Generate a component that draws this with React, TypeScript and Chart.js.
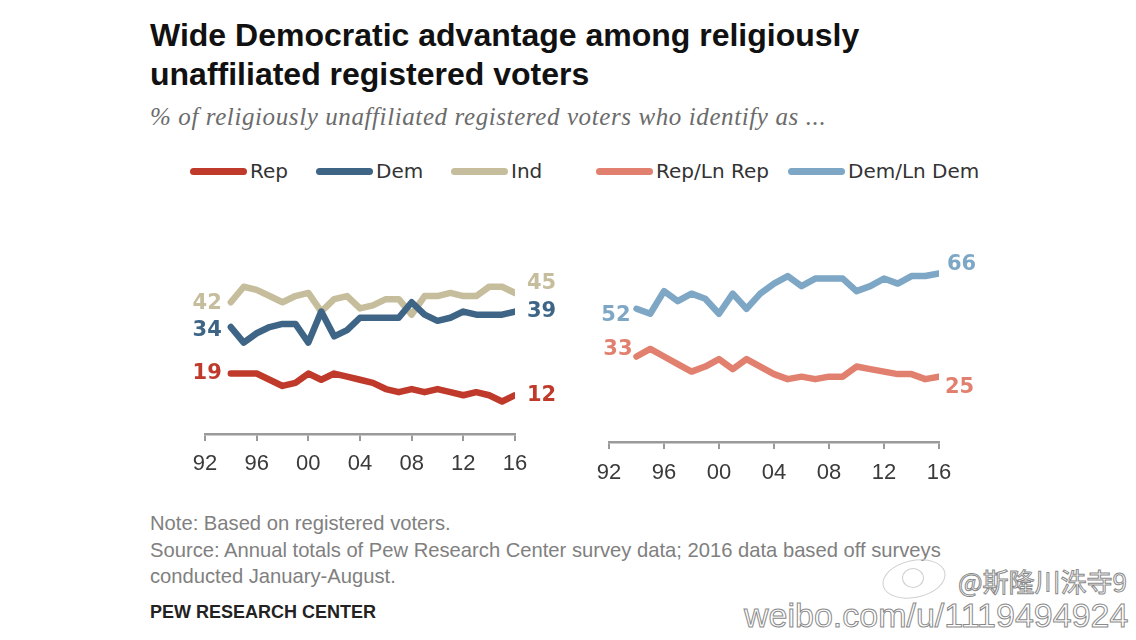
import React, { useEffect, useRef } from 'react';
import { Chart, registerables } from 'chart.js';

Chart.register(...registerables);

// ---------- data ----------
const years = [1994, 1995, 1996, 1997, 1998, 1999, 2000, 2001, 2002, 2003, 2004, 2005, 2006, 2007, 2008, 2009, 2010, 2011, 2012, 2013, 2014, 2015, 2016];
const xTickYears = [1992, 1996, 2000, 2004, 2008, 2012, 2016];
const xTickLabels = ['92', '96', '00', '04', '08', '12', '16'];

const repValues = [19, 19, 19, 17, 15, 16, 19, 17, 19, 18, 17, 16, 14, 13, 14, 13, 14, 13, 12, 13, 12, 10, 12];
const demValues = [34, 29, 32, 34, 35, 35, 29, 39, 31, 33, 37, 37, 37, 37, 42, 38, 36, 37, 39, 38, 38, 38, 39];
const indValues = [42, 47, 46, 44, 42, 44, 45, 39, 43, 44, 40, 41, 43, 43, 38, 44, 44, 45, 44, 44, 47, 47, 45];
const repLeanValues = [33, 36, 33, 30, 27, 29, 32, 28, 32, 29, 26, 24, 25, 24, 25, 25, 29, 28, 27, 26, 26, 24, 25];
const demLeanValues = [52, 50, 59, 55, 58, 56, 50, 58, 52, 58, 62, 65, 61, 64, 64, 64, 59, 61, 64, 62, 65, 65, 66];

const seriesNames = ['Rep', 'Dem', 'Ind', 'Rep/Ln Rep', 'Dem/Ln Dem'];

// ---------- styles ----------
const COLORS: Record<string, string> = {
  Rep: '#bf3a2b',
  Dem: '#3e6586',
  Ind: '#c6bd9c',
  'Rep/Ln Rep': '#e1806e',
  'Dem/Ln Dem': '#7ea7c6',
};

type Series = {
  label: string;
  values: number[];
  startDx: number;
  startDy: number;
  endDx: number;
  endDy: number;
};

const endLabelsPlugin = {
  id: 'endLabels',
  afterDatasetsDraw(chart: any) {
    const ctx = chart.ctx;
    chart.data.datasets.forEach((ds: any, i: number) => {
      const meta = chart.getDatasetMeta(i);
      const pts = meta.data;
      if (!pts.length) return;
      const first = pts[0];
      const last = pts[pts.length - 1];
      const o = ds.endLabelOpts;
      ctx.save();
      ctx.font = 'bold 21px "DejaVu Sans"';
      ctx.fillStyle = ds.borderColor;
      ctx.textBaseline = 'middle';
      ctx.textAlign = 'right';
      ctx.fillText(String(ds.data[0].y), first.x - o.startDx, first.y + o.startDy);
      ctx.textAlign = 'left';
      ctx.fillText(String(ds.data[ds.data.length - 1].y), last.x + o.endDx, last.y + o.endDy);
      ctx.restore();
    });
  },
};

function LineChart(props: {
  series: Series[];
  yMin: number;
  yMax: number;
  left: number;
  top: number;
  width: number;
  height: number;
  padding: { left: number; right: number; top: number; bottom: number };
  tickPadding: number;
}) {
  const ref = useRef<HTMLCanvasElement | null>(null);
  useEffect(() => {
    if (!ref.current) return;
    const chart = new Chart(ref.current, {
      type: 'line',
      data: {
        datasets: props.series.map((s) => ({
          label: s.label,
          data: years.map((y, i) => ({ x: y, y: s.values[i] })),
          borderColor: COLORS[s.label],
          backgroundColor: COLORS[s.label],
          borderWidth: 6.5,
          pointRadius: 0,
          pointHoverRadius: 0,
          tension: 0,
          fill: false,
          borderJoinStyle: 'round',
          borderCapStyle: 'round',
          endLabelOpts: { startDx: s.startDx, startDy: s.startDy, endDx: s.endDx, endDy: s.endDy },
        })) as any,
      },
      options: {
        animation: false,
        responsive: false,
        maintainAspectRatio: false,
        events: [],
        layout: { padding: props.padding },
        plugins: {
          legend: { display: false },
          tooltip: { enabled: false },
        },
        scales: {
          x: {
            type: 'linear',
            min: 1992,
            max: 2016,
            afterBuildTicks: (scale: any) => {
              scale.ticks = xTickYears.map((v) => ({ value: v }));
            },
            afterFit: (scale: any) => {
              scale.height = 50;
            },
            ticks: {
              autoSkip: false,
              maxRotation: 0,
              padding: props.tickPadding,
              color: '#3a3a3a',
              font: { family: '"Liberation Sans", Arial, sans-serif', size: 22 },
              callback: (_v: any, index: number) => xTickLabels[index] ?? '',
            },
            grid: {
              drawOnChartArea: false,
              drawTicks: true,
              tickLength: 7,
              color: '#9a9a9a',
              lineWidth: 2,
            },
            border: { display: true, color: '#9a9a9a', width: 2.5 },
          },
          y: {
            display: false,
            min: props.yMin,
            max: props.yMax,
          },
        },
      } as any,
      plugins: [endLabelsPlugin],
    });
    return () => chart.destroy();
  }, []);
  return (
    <canvas
      ref={ref}
      width={props.width}
      height={props.height}
      style={{ position: 'absolute', left: props.left, top: props.top, width: props.width, height: props.height }}
    />
  );
}

const legendPos = [190, 316, 451, 596, 788];

export default function App() {
  useEffect(() => {
    document.body.style.margin = '0';
  }, []);

  const leftSeries: Series[] = [
    { label: 'Dem', values: demValues, startDx: 9, startDy: 3, endDx: 12, endDy: 0 },
    { label: 'Ind', values: indValues, startDx: 9, startDy: 1, endDx: 12, endDy: -9 },
    { label: 'Rep', values: repValues, startDx: 9, startDy: 0, endDx: 12, endDy: 0 },
  ];
  const rightSeries: Series[] = [
    { label: 'Dem/Ln Dem', values: demLeanValues, startDx: 6, startDy: 7, endDx: 8, endDy: -9 },
    { label: 'Rep/Ln Rep', values: repLeanValues, startDx: 4, startDy: -7, endDx: 6, endDy: 11 },
  ];

  return (
    <div
      style={{
        position: 'absolute',
        left: 0,
        top: 0,
        width: 1136,
        height: 640,
        background: '#ffffff',
        overflow: 'hidden',
      }}
    >
      <div
        style={{
          position: 'absolute',
          left: 150,
          top: 16,
          font: 'bold 32px "Liberation Sans", Arial, sans-serif',
          lineHeight: '39px',
          color: '#111',
          whiteSpace: 'nowrap',
        }}
      >
        Wide Democratic advantage among religiously
        <br />
        unaffiliated registered voters
      </div>
      <div
        style={{
          position: 'absolute',
          left: 150,
          top: 103,
          font: 'italic 25px "Liberation Serif", serif',
          letterSpacing: '0.6px',
          lineHeight: '28px',
          color: '#6b6b6b',
          whiteSpace: 'nowrap',
        }}
      >
        % of religiously unaffiliated registered voters who identify as ...
      </div>

      {seriesNames.map((name, i) => (
        <div key={name}>
          <div
            style={{
              position: 'absolute',
              left: legendPos[i],
              top: 168,
              width: 57,
              height: 7,
              borderRadius: 4,
              background: COLORS[name],
            }}
          />
          <div
            style={{
              position: 'absolute',
              left: legendPos[i] + 60,
              top: 159,
              font: '20px "DejaVu Sans", sans-serif',
              lineHeight: '24px',
              color: '#333',
              whiteSpace: 'nowrap',
            }}
          >
            {name}
          </div>
        </div>
      ))}

      <LineChart
        series={leftSeries}
        yMin={-0.5}
        yMax={49.5}
        left={155}
        top={250}
        width={420}
        height={234}
        padding={{ left: 50, right: 60, top: 29, bottom: 0 }}
        tickPadding={10}
      />
      <LineChart
        series={rightSeries}
        yMin={-1}
        yMax={69}
        left={560}
        top={246}
        width={470}
        height={246}
        padding={{ left: 49, right: 91, top: 20, bottom: 0 }}
        tickPadding={11}
      />

      <div
        style={{
          position: 'absolute',
          left: 150,
          top: 510,
          font: '20.2px "Liberation Sans", Arial, sans-serif',
          lineHeight: '26.5px',
          color: '#808080',
          whiteSpace: 'nowrap',
        }}
      >
        Note: Based on registered voters.
        <br />
        Source: Annual totals of Pew Research Center survey data; 2016 data based off surveys
        <br />
        conducted January-August.
      </div>
      <div
        style={{
          position: 'absolute',
          left: 150,
          top: 601,
          font: 'bold 18px "Liberation Sans", Arial, sans-serif',
          lineHeight: '22px',
          color: '#222',
          whiteSpace: 'nowrap',
        }}
      >
        PEW RESEARCH CENTER
      </div>

      {/* watermark */}
      <div
        style={{
          position: 'absolute',
          left: 882,
          top: 560,
          width: 62,
          height: 36,
          border: '1.5px solid #cfcfcf',
          borderRadius: '50%',
          transform: 'rotate(-12deg)',
        }}
      />
      <div
        style={{
          position: 'absolute',
          left: 902,
          top: 568,
          width: 20,
          height: 18,
          border: '1.5px solid #cfcfcf',
          borderRadius: '50%',
        }}
      />
      <div
        style={{
          position: 'absolute',
          left: 958,
          top: 564,
          font: '26px "Noto Sans CJK SC", sans-serif',
          lineHeight: '34px',
          color: '#ffffff',
          WebkitTextStroke: '1px #8a8a8a',
          whiteSpace: 'nowrap',
        }}
      >
        @斯隆川洙寺9
      </div>
      <div
        style={{
          position: 'absolute',
          left: 744,
          top: 595,
          font: '34px "Liberation Sans", Arial, sans-serif',
          lineHeight: '40px',
          color: '#ffffff',
          WebkitTextStroke: '1px #8a8a8a',
          whiteSpace: 'nowrap',
        }}
      >
        weibo.com/u/1119494924
      </div>
    </div>
  );
}
